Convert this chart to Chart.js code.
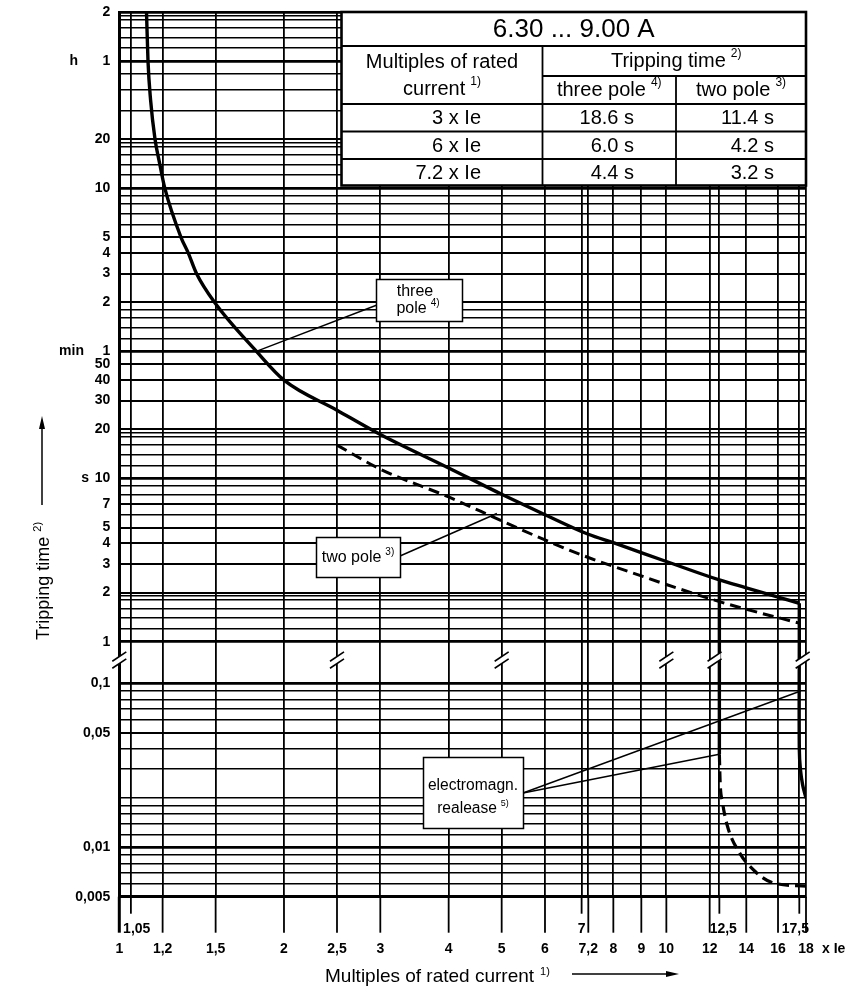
<!DOCTYPE html>
<html>
<head>
<meta charset="utf-8">
<script src="https://cdn.jsdelivr.net/npm/chart.js@4.4.0/dist/chart.umd.min.js"></script>
<style>
  body { margin: 0; background: #fff; }
  #wrap { width: 860px; height: 1000px; position: relative; }
</style>
</head>
<body>
<div id="wrap"><canvas id="tripChart"></canvas></div>
<script>
// multiples of rated current (x) and tripping time in seconds (t)
var threePoleX = [1.1213, 1.1284, 1.1408, 1.1621, 1.1848, 1.2111, 1.2965, 1.337, 1.3839, 1.4928, 1.7814, 2, 2.5, 3, 4, 5, 6, 7.2, 8, 10, 12.5, 14, 17.5]
var threePoleT = [7200, 3600, 2078, 1200, 854, 600, 300, 240, 180, 120, 60, 40, 26.2, 18.6, 11.6, 8.0, 6.0, 4.55, 4.04, 3.1, 2.39, 2.14, 1.72]
var twoPoleX = [2.5, 3, 4, 5, 6, 7.2, 9, 10, 12.5, 14, 17.5]
var twoPoleT = [16, 11.4, 7.7, 5.5, 4.2, 3.28, 2.53, 2.24, 1.76, 1.58, 1.3]

// vertical drops, upper part (s) and lower part (below the axis break)
var dropUpX = [17.5, 17.5]
var dropUpT = [1.72, 1]
var dropLowX = [17.5, 17.5, 17.58, 17.75, 18]
var dropLowT = [0.18, 0.04, 0.03, 0.024, 0.02]
var releaseUpX = [12.5, 12.5]
var releaseUpT = [2.39, 1]
var releaseLowX = [12.5, 12.5]
var releaseLowT = [0.18, 0.037]
var releaseTailX = [12.5, 12.54, 12.66, 12.93, 13.57, 14.55, 15.6, 18]
var releaseTailT = [0.037, 0.025, 0.019, 0.0135, 0.0094, 0.0071, 0.0061, 0.0058]

// table values
var tableMultiples = ['3', '6', '7.2']
var tableThreePole = ['18.6', '6.0', '4.4']
var tableTwoPole = ['11.4', '4.2', '3.2']

// ticks
var xTickValues = [1, 1.05, 1.2, 1.5, 2, 2.5, 3, 4, 5, 6, 7, 7.2, 8, 9, 10, 12, 12.5, 14, 16, 17.5, 18]
var xTickLabels = ['1', '   1,05', '1,2', '1,5', '2', '2,5', '3', '4', '5', '6', '7', '7,2', '8', '9', '10', '12', '  12,5', '14', '16', '17,5  ', '18']
var xUpperRow = [1.05, 7, 12.5, 17.5]
var upperGrid = [1, 1.2, 1.4, 1.6, 1.8, 1.9, 2, 3, 4, 5, 6, 7, 8, 9, 10, 12, 14, 16, 18, 19, 20, 30, 40, 50, 60, 72, 84, 96, 108, 120, 180, 240, 300, 360, 420, 480, 540, 600, 720, 840, 960, 1080, 1140, 1200, 1800, 2400, 3000, 3600, 4320, 5040, 5760, 6480, 6840, 7200]
var upperLabelValues = [1, 2, 3, 4, 5, 7, 10, 20, 30, 40, 50, 60, 120, 180, 240, 300, 600, 1200, 3600, 7200]
var upperLabelText = ['1', '2', '3', '4', '5', '7', '10', '20', '30', '40', '50', '1', '2', '3', '4', '5', '10', '20', '1', '2']
var upperMajor = [1, 10, 60, 600, 3600, 7200]
var lowerGrid = [0.005, 0.006, 0.007, 0.008, 0.009, 0.01, 0.012, 0.014, 0.016, 0.018, 0.02, 0.03, 0.04, 0.05, 0.06, 0.07, 0.08, 0.09, 0.1]
var lowerLabelValues = [0.005, 0.01, 0.05, 0.1]
var lowerLabelText = ['0,005', '0,01', '0,05', '0,1']
var lowerMajor = [0.005, 0.01, 0.1]
var breakAt = [1, 2.5, 5, 10, 12.25, 17.75]

var FONT = '"Liberation Sans", Arial, sans-serif'
Chart.defaults.font.family = FONT
Chart.defaults.color = '#000'

function pts(xs, ts) {
    return xs.map(function (x, i) { return { x: x, y: ts[i] } })
}
function setTicks(values) {
    return function (scale) {
        scale.ticks = values.map(function (v) { return { value: v } })
    }
}
function labelFor(values, texts) {
    return function (value) {
        var i = values.indexOf(value)
        return i < 0 ? '' : texts[i]
    }
}
function gridWidth(major, labelled) {
    return function (c) {
        var v = c.tick ? c.tick.value : null
        if (major.indexOf(v) >= 0) return 2.8
        if (labelled.indexOf(v) >= 0) return 1.9
        return 1.5
    }
}
function fitY(s) {
    s.width = 119.3
    s.paddingTop = 0
    s.paddingBottom = 0
}

function line(ctx, x1, y1, x2, y2) {
    ctx.beginPath(); ctx.moveTo(x1, y1); ctx.lineTo(x2, y2); ctx.stroke()
}
function supText(ctx, main, sup, x, y, size, align) {
    var small = Math.round(size * 0.6)
    ctx.font = size + 'px ' + FONT
    var w = ctx.measureText(main).width
    ctx.font = small + 'px ' + FONT
    var ws = sup ? ctx.measureText(sup).width + size * 0.25 : 0
    var left = x - (w + ws) / 2
    if (align === 'left') left = x
    if (align === 'right') left = x - w - ws
    ctx.textAlign = 'left'
    ctx.textBaseline = 'middle'
    ctx.font = size + 'px ' + FONT
    ctx.fillText(main, left, y)
    if (sup) {
        ctx.font = small + 'px ' + FONT
        ctx.fillText(sup, left + w + size * 0.25, y - size * 0.35)
    }
}

var decor = {
    id: 'decor',
    afterDraw: function (chart) {
        var ctx = chart.ctx
        var area = chart.chartArea
        var xs = chart.scales.x, yUp = chart.scales.yUp, yLow = chart.scales.yLow
        ctx.save()
        ctx.strokeStyle = '#000'
        ctx.fillStyle = '#000'

        // tick lines below the plot
        xTickValues.forEach(function (v) {
            var px = xs.getPixelForValue(v)
            ctx.lineWidth = v === 1 ? 3 : 1.8
            line(ctx, px, area.bottom, px, area.bottom + (xUpperRow.indexOf(v) >= 0 ? 17 : 36))
        })

        // axis break marks
        var yb = yLow.getPixelForValue(0.14)
        breakAt.forEach(function (v) {
            var px = xs.getPixelForValue(v)
            ctx.fillStyle = '#fff'
            ctx.beginPath()
            ctx.moveTo(px - 6, yb + 1); ctx.lineTo(px + 6, yb - 7)
            ctx.lineTo(px + 6, yb); ctx.lineTo(px - 6, yb + 8)
            ctx.closePath(); ctx.fill()
            ctx.lineWidth = 1.6
            line(ctx, px - 7, yb + 1.7, px + 7, yb - 7.7)
            line(ctx, px - 7, yb + 8.7, px + 7, yb - 0.7)
        })
        ctx.fillStyle = '#000'

        // unit labels on the time axis
        ctx.font = 'bold 14px ' + FONT
        ctx.textAlign = 'right'
        ctx.textBaseline = 'middle'
        ctx.fillText('h', 78, yUp.getPixelForValue(3600))
        ctx.fillText('min', 84, yUp.getPixelForValue(60))
        ctx.fillText('s', 89, yUp.getPixelForValue(10))
        ctx.textAlign = 'left'
        ctx.fillText('x Ie', 822, 949)

        // axis titles with arrows
        ctx.save()
        ctx.translate(49, 640)
        ctx.rotate(-Math.PI / 2)
        ctx.font = '18px ' + FONT
        ctx.textAlign = 'left'
        ctx.textBaseline = 'alphabetic'
        ctx.fillText('Tripping time', 0, 0)
        var tw = ctx.measureText('Tripping time').width
        ctx.font = '11px ' + FONT
        ctx.fillText('2)', tw + 5, -8)
        ctx.restore()
        ctx.lineWidth = 1.5
        line(ctx, 42, 505, 42, 426)
        ctx.beginPath(); ctx.moveTo(42, 416); ctx.lineTo(39, 429); ctx.lineTo(45, 429); ctx.closePath(); ctx.fill()

        ctx.font = '19px ' + FONT
        ctx.textAlign = 'left'
        ctx.textBaseline = 'alphabetic'
        ctx.fillText('Multiples of rated current', 325, 982)
        var xw = ctx.measureText('Multiples of rated current').width
        ctx.font = '11px ' + FONT
        ctx.fillText('1)', 325 + xw + 6, 975)
        line(ctx, 572, 974, 668, 974)
        ctx.beginPath(); ctx.moveTo(679, 974); ctx.lineTo(666, 971); ctx.lineTo(666, 977); ctx.closePath(); ctx.fill()

        // leader lines
        ctx.lineWidth = 1.4
        line(ctx, 377, 305, xs.getPixelForValue(1.78), yUp.getPixelForValue(60))
        line(ctx, 400, 556, xs.getPixelForValue(4.9), yUp.getPixelForValue(6.1))
        line(ctx, 523, 793, xs.getPixelForValue(12.5), yLow.getPixelForValue(0.037))
        line(ctx, 523, 793, xs.getPixelForValue(17.6), yLow.getPixelForValue(0.09))

        // label boxes
        function box(x, y, w, h) {
            ctx.fillStyle = '#fff'
            ctx.fillRect(x, y, w, h)
            ctx.lineWidth = 1.5
            ctx.strokeRect(x, y, w, h)
            ctx.fillStyle = '#000'
        }
        box(376.5, 279.5, 86, 42)
        supText(ctx, 'three', '', 415, 292, 16)
        supText(ctx, 'pole', '4)', 418, 309, 16)
        box(316.5, 537.5, 84, 40)
        supText(ctx, 'two pole', '3)', 358, 558, 16)
        box(423.5, 757.5, 100, 71)
        supText(ctx, 'electromagn.', '', 473, 786, 15.6)
        supText(ctx, 'realease', '5)', 473, 809, 15.6)

        // table
        var tl = 341.5, tr = area.right, tt = area.top
        var c1 = 542.5, c2 = 676
        var rowY = [46, 76, 104, 131.5, 159, 185.5]
        ctx.fillStyle = '#fff'
        ctx.fillRect(tl, tt, tr - tl, rowY[5] - tt)
        ctx.fillStyle = '#000'
        ctx.lineWidth = 1.8
        line(ctx, tl, rowY[0], tr, rowY[0])
        line(ctx, c1, rowY[1], tr, rowY[1])
        line(ctx, tl, rowY[2], tr, rowY[2])
        line(ctx, tl, rowY[3], tr, rowY[3])
        line(ctx, tl, rowY[4], tr, rowY[4])
        line(ctx, c1, rowY[0], c1, rowY[5])
        line(ctx, c2, rowY[1], c2, rowY[5])
        ctx.lineWidth = 2.6
        ctx.strokeRect(tl, tt, tr - tl, rowY[5] - tt)

        supText(ctx, '6.30 ... 9.00 A', '', (tl + tr) / 2, 30, 26)
        supText(ctx, 'Multiples of rated', '', (tl + c1) / 2, 62, 20)
        supText(ctx, 'current', '1)', (tl + c1) / 2, 89, 20)
        supText(ctx, 'Tripping time', '2)', (c1 + tr) / 2 + 2, 61, 20)
        supText(ctx, 'three pole', '4)', (c1 + c2) / 2, 90, 20)
        supText(ctx, 'two pole', '3)', (c2 + tr) / 2, 90, 20)
        for (var i = 0; i < tableMultiples.length; i++) {
            var cy = (rowY[i + 2] + rowY[i + 3]) / 2 + 1
            supText(ctx, tableMultiples[i] + ' x Ie', '', 481, cy, 20, 'right')
            supText(ctx, tableThreePole[i] + ' s', '', 634, cy, 20, 'right')
            supText(ctx, tableTwoPole[i] + ' s', '', 774, cy, 20, 'right')
        }
        ctx.restore()
    }
}

var solid = { borderColor: '#000', pointRadius: 0, fill: false }
var mychart = new Chart(document.getElementById('tripChart'), {
    type: 'line',
    data: {
        datasets: [
            Object.assign({ data: pts(threePoleX, threePoleT), yAxisID: 'yUp', borderWidth: 3.4, cubicInterpolationMode: 'monotone' }, solid),
            Object.assign({ data: pts(twoPoleX, twoPoleT), yAxisID: 'yUp', borderWidth: 3, borderDash: [11, 6], cubicInterpolationMode: 'monotone' }, solid),
            Object.assign({ data: pts(dropUpX, dropUpT), yAxisID: 'yUp', borderWidth: 3.4 }, solid),
            Object.assign({ data: pts(releaseUpX, releaseUpT), yAxisID: 'yUp', borderWidth: 3.4 }, solid),
            Object.assign({ data: pts(dropLowX, dropLowT), yAxisID: 'yLow', borderWidth: 3.4, tension: 0.4 }, solid),
            Object.assign({ data: pts(releaseLowX, releaseLowT), yAxisID: 'yLow', borderWidth: 3.4 }, solid),
            Object.assign({ data: pts(releaseTailX, releaseTailT), yAxisID: 'yLow', borderWidth: 3.2, borderDash: [11, 6], cubicInterpolationMode: 'monotone' }, solid)
        ]
    },
    options: {
        responsive: true,
        maintainAspectRatio: false,
        animation: false,
        layout: { padding: { top: 12, right: 54, left: 0, bottom: 0 } },
        plugins: { legend: { display: false }, tooltip: { enabled: false } },
        scales: {
            x: {
                type: 'logarithmic', min: 1, max: 18, position: 'bottom',
                afterBuildTicks: setTicks(xTickValues),
                afterFit: function (s) { s.height = 103.3 },
                grid: { color: '#000', lineWidth: 1.8, drawTicks: false },
                border: { color: '#000', width: 3 },
                ticks: {
                    autoSkip: false, maxRotation: 0, minRotation: 0, padding: 22,
                    font: { size: 14, weight: 'bold', lineHeight: 1.43 },
                    callback: function (value) {
                        var i = xTickValues.indexOf(value)
                        if (i < 0) return ''
                        return xUpperRow.indexOf(value) >= 0 ? [xTickLabels[i], ''] : ['', xTickLabels[i]]
                    }
                }
            },
            yLow: {
                type: 'logarithmic', min: 0.005, max: 0.18, position: 'left',
                stack: 'time', stackWeight: 255,
                afterBuildTicks: setTicks(lowerGrid),
                afterFit: fitY,
                grid: { color: '#000', lineWidth: gridWidth(lowerMajor, lowerLabelValues), drawTicks: false },
                border: { color: '#000', width: 3 },
                ticks: { autoSkip: false, padding: 9, font: { size: 14, weight: 'bold' }, callback: labelFor(lowerLabelValues, lowerLabelText) }
            },
            yUp: {
                type: 'logarithmic', min: 1, max: 7200, position: 'left',
                stack: 'time', stackWeight: 629.7,
                afterBuildTicks: setTicks(upperGrid),
                afterFit: fitY,
                grid: { color: '#000', lineWidth: gridWidth(upperMajor, upperLabelValues), drawTicks: false },
                border: { color: '#000', width: 3 },
                ticks: { autoSkip: false, padding: 9, font: { size: 14, weight: 'bold' }, callback: labelFor(upperLabelValues, upperLabelText) }
            }
        }
    },
    plugins: [decor]
});
</script>
</body>
</html>
